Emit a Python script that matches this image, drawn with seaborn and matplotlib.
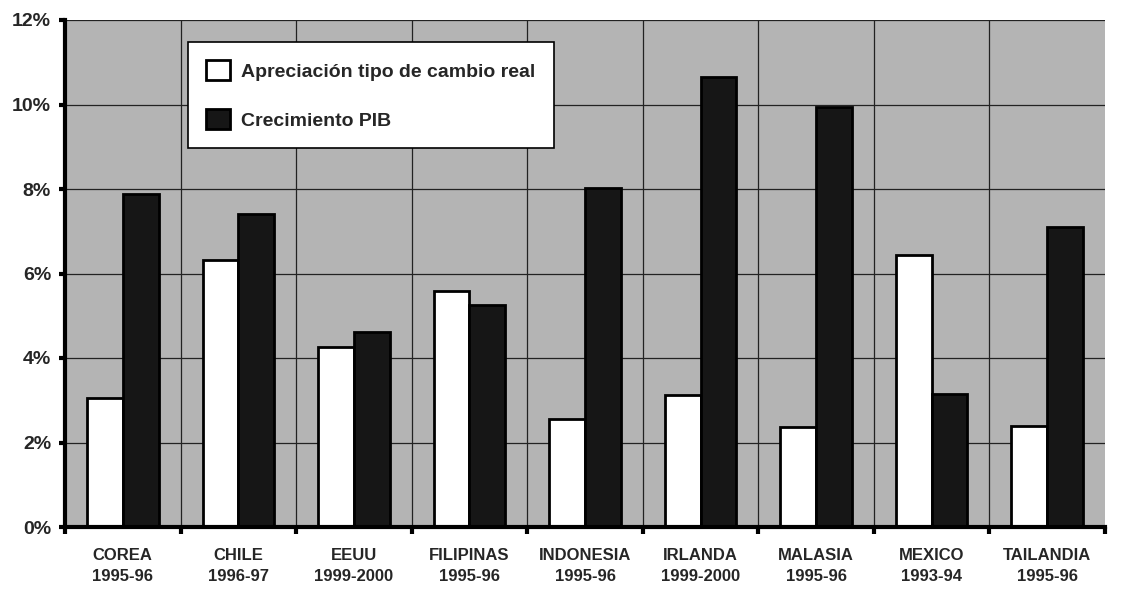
import matplotlib
matplotlib.use("Agg")
import matplotlib.pyplot as plt
import seaborn as sns
import pandas as pd
from matplotlib.patches import Patch
from matplotlib.ticker import FixedLocator

paises = ["COREA", "CHILE", "EEUU", "FILIPINAS", "INDONESIA", "IRLANDA", "MALASIA", "MEXICO", "TAILANDIA"]
periodos = ["1995-96", "1996-97", "1999-2000", "1995-96", "1995-96", "1999-2000", "1995-96", "1993-94", "1995-96"]
apreciacion = [3.05, 6.31, 4.26, 5.58, 2.55, 3.13, 2.36, 6.43, 2.39]
crecimiento = [7.87, 7.42, 4.62, 5.25, 8.03, 10.66, 9.95, 3.14, 7.11]
series = ["Apreciación tipo de cambio real", "Crecimiento PIB"]

etiquetas = [f"{p}\n{a}" for p, a in zip(paises, periodos)]
df = pd.DataFrame({
    "cat": etiquetas * 2,
    "serie": [series[0]] * len(paises) + [series[1]] * len(paises),
    "valor": apreciacion + crecimiento,
})

sns.set_theme(style="white")
plt.rcParams["font.family"] = ["Liberation Sans", "DejaVu Sans"]

fig = plt.figure(figsize=(11.31, 5.9), dpi=100)
ax = fig.add_axes([65 / 1131, 1 - 527 / 590, 1040 / 1131, 507 / 590])
ax.set_facecolor("#b4b4b4")

sns.barplot(data=df, x="cat", y="valor", hue="serie", order=etiquetas,
            hue_order=series, palette=["#ffffff", "#161616"], width=0.62,
            edgecolor="black", linewidth=2, saturation=1, ax=ax, legend=False)

ax.set_ylim(0, 12)
ax.set_xlim(-0.5, len(paises) - 0.5)
ax.set_yticks(range(0, 13, 2))
ax.set_yticklabels([f"{v}%" for v in range(0, 13, 2)], fontsize=14, fontweight="bold")
ax.set_xticklabels(etiquetas, fontsize=12, fontweight="bold", linespacing=1.5)
ax.tick_params(axis="x", which="major", length=0, pad=15)
ax.tick_params(axis="y", which="major", length=4, width=3, color="black", direction="out", pad=6, left=True)
ax.xaxis.set_minor_locator(FixedLocator([i - 0.5 for i in range(len(paises) + 1)]))
ax.tick_params(axis="x", which="minor", length=5, width=3, color="black", direction="out", bottom=True)
ax.set_xlabel("")
ax.set_ylabel("")

for y in range(2, 13, 2):
    ax.axhline(y, color="#222222", lw=0.9, zorder=0.5)
for x in range(1, len(paises)):
    ax.axvline(x - 0.5, color="#222222", lw=0.9, zorder=0.5)

for s in ["top", "right"]:
    ax.spines[s].set_visible(False)
ax.spines["left"].set_linewidth(3)
ax.spines["bottom"].set_linewidth(3)
ax.spines["left"].set_color("black")
ax.spines["bottom"].set_color("black")

handles = [Patch(facecolor="#ffffff", edgecolor="black", linewidth=2),
           Patch(facecolor="#161616", edgecolor="black", linewidth=2)]
leg = ax.legend(handles, series, loc="upper left", bbox_to_anchor=(0.118, 0.957),
                prop={"weight": "bold", "size": 14}, frameon=True, fancybox=False,
                framealpha=1, edgecolor="black", borderpad=0.95, labelspacing=1.45,
                handlelength=1.2, handleheight=1.2, handletextpad=0.6, borderaxespad=0)
leg.get_frame().set_linewidth(1.2)
leg.get_frame().set_facecolor("white")

fig.savefig("out.png", dpi=100)
